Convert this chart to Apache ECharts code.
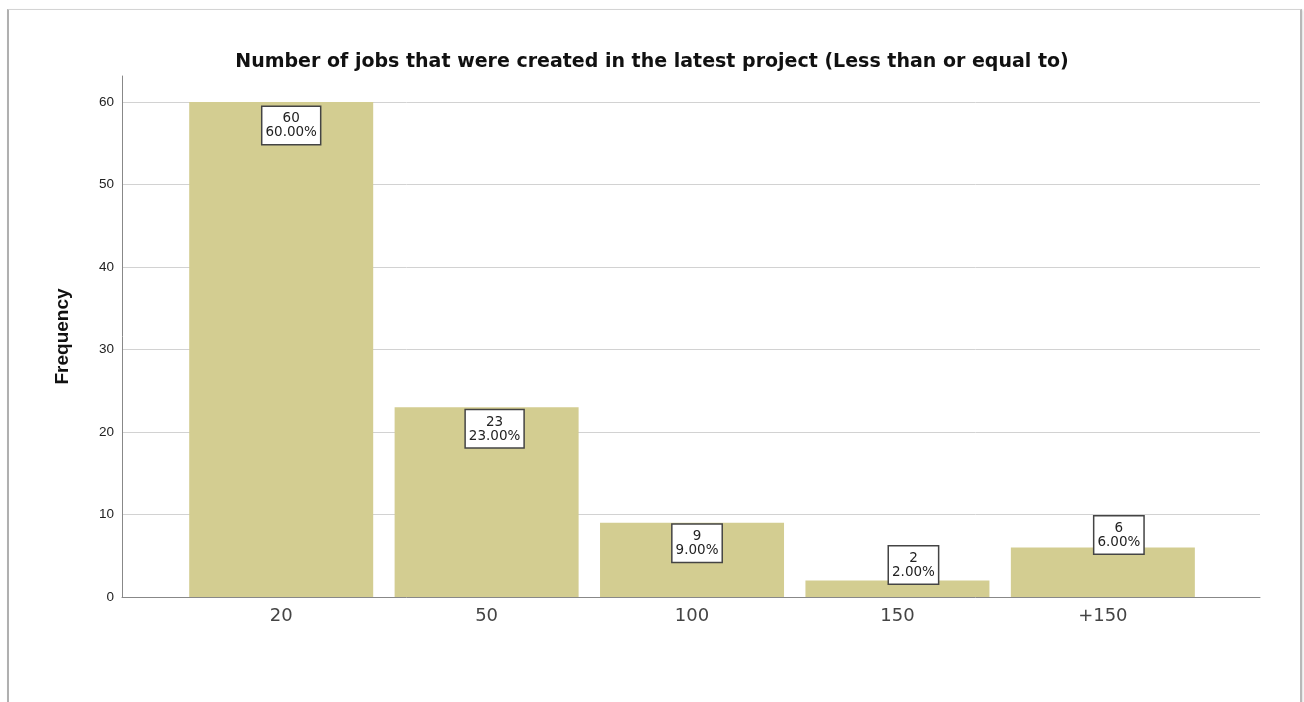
<!DOCTYPE html>
<html><head><meta charset="utf-8">
<script src="https://cdn.jsdelivr.net/npm/echarts@6/dist/echarts.min.js"></script>
<style>
html,body{margin:0;padding:0;background:#fff;}
#frame{position:absolute;left:7px;top:9px;width:1291px;height:700px;border-top:1px solid #d4d4d4;border-left:2px solid #b0b0b0;border-right:2px solid #b8b8b8;box-shadow:1px 1px 2px #ddd;}
#chart{position:absolute;left:0;top:0;width:1304px;height:702px;}
</style></head>
<body><div id="frame"></div><div id="chart"></div>
<script>
const categories = ['20', '50', '100', '150', '+150'];
const frequencies = [60, 23, 9, 2, 6];
const percents = ['60.00%', '23.00%', '9.00%', '2.00%', '6.00%'];
const yTicks = [0, 10, 20, 30, 40, 50, 60];

// label box placement (styling, as in the SPSS output)
const labelStyles = [
  { position: 'insideTop', distance: 0, offset: [10, 5] },
  { position: 'insideTop', distance: 0, offset: [8, 3] },
  { position: 'insideTop', distance: 0, offset: [5, 2] },
  { position: 'top', distance: 0, offset: [16, 3] },
  { position: 'top', distance: 0, offset: [16, 6] }
];

const chart = echarts.init(document.getElementById('chart'));
const data = frequencies.map((v, i) => ({ value: [i, v], label: labelStyles[i] }));
chart.setOption({
  animation: false,
  title: {
    text: 'Number of jobs that were created in the latest project (Less than or equal to)',
    left: 'center', top: 48,
    textStyle: { fontFamily: 'DejaVu Sans', fontSize: 19, fontWeight: 'bold', color: '#111' }
  },
  grid: { left: 122, right: 44, top: 76, bottom: 105, containLabel: false },
  xAxis: {
    type: 'value', min: -0.775, max: 4.765,
    axisLine: { show: true, onZero: false, lineStyle: { color: '#888', width: 1 } },
    axisTick: { show: false },
    splitLine: { show: false },
    axisLabel: {
      customValues: [0, 1, 2, 3, 4],
      formatter: v => categories[Math.round(v)],
      fontFamily: 'DejaVu Sans', fontSize: 18, color: '#444', margin: 10
    }
  },
  yAxis: {
    type: 'value', min: 0, max: 63.15,
    name: 'Frequency', nameLocation: 'middle', nameGap: 50, nameRotate: 90,
    nameTextStyle: { fontFamily: 'Liberation Sans', fontSize: 19, fontWeight: 'bold', color: '#111', padding: [0, 0, 0, 0] },
    axisLine: { show: true, onZero: false, lineStyle: { color: '#888', width: 1 } },
    axisTick: { show: false },
    axisLabel: {
      customValues: yTicks,
      fontFamily: 'Liberation Sans', fontSize: 13.5, color: '#222', margin: 8
    },
    splitLine: { show: true, showMaxLine: false, showMinLine: false, lineStyle: { color: '#d2d2d2', width: 1 } }
  },
  series: [{
    type: 'bar',
    data: data,
    barWidth: 184,
    itemStyle: { color: '#d3cd91' },
    label: {
      show: true,
      formatter: p => frequencies[p.dataIndex] + '\n' + percents[p.dataIndex],
      fontFamily: 'DejaVu Sans', fontSize: 13.5, color: '#222',
      lineHeight: 14, align: 'center',
      backgroundColor: '#fff', borderColor: '#444', borderWidth: 1.5,
      padding: [5, 3, 4, 3]
    }
  }]
});
</script></body></html>
